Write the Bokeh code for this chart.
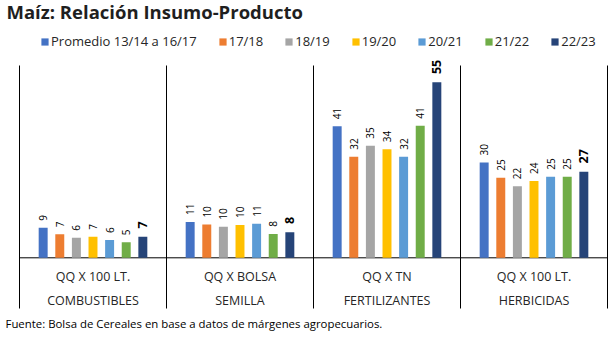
import numpy as np
from bokeh.plotting import figure
from bokeh.models import ColumnDataSource, Legend, LegendItem, Label, Range1d
from bokeh.core.properties import value
from bokeh.embed import file_html
from bokeh.resources import INLINE

# ---- data ----
categories = ["COMBUSTIBLES", "SEMILLA", "FERTILIZANTES", "HERBICIDAS"]
units = ["QQ X 100 LT.", "QQ X BOLSA", "QQ X TN", "QQ X 100 LT."]
series = ["Promedio 13/14 a 16/17", "17/18", "18/19", "19/20", "20/21", "21/22", "22/23"]
prom_1314_1617 = [9.4, 11.2, 41.2, 29.9]
c_1718 = [7.4, 10.4, 31.7, 25.1]
c_1819 = [6.3, 9.7, 35.1, 22.4]
c_1920 = [6.6, 10.3, 34.0, 24.1]
c_2021 = [5.6, 10.7, 31.7, 25.4]
c_2122 = [4.9, 7.5, 41.4, 25.4]
c_2223 = [6.6, 8.0, 55.0, 27.0]
values = [prom_1314_1617, c_1718, c_1819, c_1920, c_2021, c_2122, c_2223]
colors = ["#4472C4", "#ED7D31", "#A5A5A5", "#FFC000", "#5B9BD5", "#70AD47", "#264478"]
title = "Maíz: Relación Insumo-Producto"
source_note = "Fuente: Bolsa de Cereales en base a datos de márgenes agropecuarios."

FONT = "Open Sans"
TXT = "#262626"

# ---- layout constants (pixels) ----
W, H = 614, 340
left_px, right_px = 19, 607          # plot panel edges
top_px, base_px, bottom_px = 65, 257.3, 308
px_per_unit = 3.19
px_per_cat = (right_px - left_px) / len(categories)

n_cat = len(categories)
n_ser = len(series)
bar_step = 0.113
bar_w = 0.061

def ydata(py):
    return (base_px - py) / px_per_unit

def xdata(px):
    return (px - left_px) / px_per_cat

y_top, y_bot = ydata(top_px), ydata(bottom_px)

p = figure(width=W, height=H, x_range=Range1d(xdata(0), xdata(W)),
           y_range=Range1d(ydata(H), ydata(0)),
           x_axis_type=None, y_axis_type=None, output_backend="svg", toolbar_location=None,
           min_border=0)
p.outline_line_color = None
p.xgrid.visible = False
p.ygrid.visible = False
p.background_fill_color = "white"
p.border_fill_color = "white"

# separators and baseline
sep_x = np.arange(n_cat + 1)
p.segment(x0=sep_x, y0=y_bot, x1=sep_x, y1=y_top, line_color="black", line_width=1)
p.segment(x0=[0], y0=[0], x1=[n_cat], y1=[0], line_color="black", line_width=1)

items = []
centers = np.arange(n_cat) + 0.5
for j, (name, vals, col) in enumerate(zip(series, values, colors)):
    xs = centers + (j - (n_ser - 1) / 2) * bar_step
    vals = np.array(vals)
    last = (j == n_ser - 1)
    src = ColumnDataSource(dict(x=xs, top=vals, ly=vals + (2.6 if last else 2.2),
                                lab=[str(int(np.floor(v + 0.5))) for v in vals]))
    r = p.vbar(x="x", top="top", width=bar_w, bottom=0, source=src, fill_color=col, line_color=None)
    p.text(x="x", y="ly", text="lab", source=src, angle=np.pi / 2, text_align="left",
           text_baseline="middle", text_font=value(FONT),
           text_font_size="12.5px" if last else "10px",
           text_font_style="bold" if last else "normal", text_color="black")
    items.append(LegendItem(label=name, renderers=[r]))

# category labels
cat_src = ColumnDataSource(dict(x=centers, u=units, c=categories,
                                yu=[ydata(276)] * n_cat, yc=[ydata(300)] * n_cat))
p.text(x="x", y="yu", text="u", source=cat_src, text_align="center", text_baseline="middle",
       text_font=value(FONT), text_font_size="12.5px", text_color=TXT)
p.text(x="x", y="yc", text="c", source=cat_src, text_align="center", text_baseline="middle",
       text_font=value(FONT), text_font_size="12.5px", text_color=TXT)

legend = Legend(items=items, orientation="horizontal", location=(40, H - 50),
                glyph_width=9, glyph_height=9, label_height=13, label_standoff=2,
                spacing=21, padding=0, margin=0, border_line_color=None,
                background_fill_alpha=0, label_text_font=FONT, label_text_font_size="13px",
                label_text_color=TXT)
p.add_layout(legend, "center")

p.add_layout(Label(x=xdata(6), y=ydata(11), text=title, text_font=FONT, text_font_size="18.5px",
                   text_font_style="bold", text_color="#1f1f1f", text_baseline="middle"))
p.add_layout(Label(x=xdata(5), y=ydata(323), text=source_note, text_font=FONT,
                   text_font_size="11.4px", text_color="black", text_baseline="middle"))

open("out.html", "w").write(file_html(p, INLINE))
